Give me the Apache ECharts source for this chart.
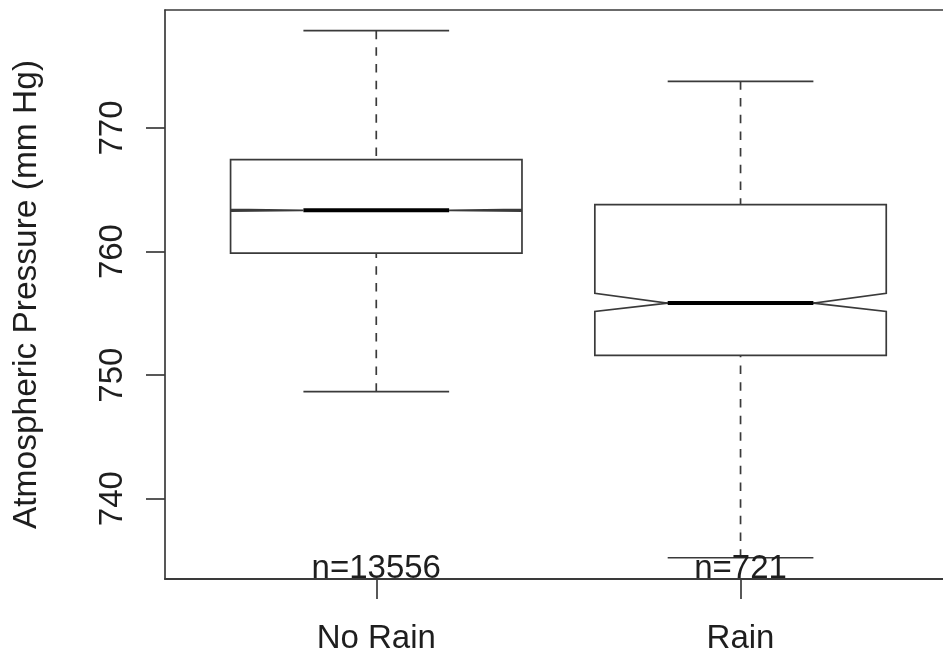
<!DOCTYPE html>
<html>
<head>
<meta charset="utf-8">
<script src="https://cdn.jsdelivr.net/npm/echarts@6/dist/echarts.min.js"></script>
<style>
html, body { margin: 0; padding: 0; background: #fff; }
#chart { width: 943px; height: 658px; }
</style>
</head>
<body>
<div id="chart"></div>
<script>
// values (mm Hg)
var groups = ['No Rain', 'Rain'];
var counts = [13556, 721];
var whiskerLow = [748.66, 735.22];
var q1 = [759.88, 751.60];
var notchLow = [763.27, 755.15];
var median = [763.34, 755.83];
var notchHigh = [763.41, 756.62];
var q3 = [767.44, 763.80];
var whiskerHigh = [777.88, 773.78];
var yTicks = [740, 750, 760, 770];

var FONT = '"Liberation Sans", Arial, sans-serif';
var INK = '#1e1e1e';
var LINE = '#3a3a3a';
var Y_MIN = 733.5, Y_MAX = 779.55;

var boxData = groups.map(function (g, i) {
    return [i + 1, whiskerLow[i], q1[i], notchLow[i], median[i], notchHigh[i], q3[i], whiskerHigh[i]];
});

function renderBox(params, api) {
    var x = api.value(0);
    var c = function (dx, v) { return api.coord([x + dx, v]); };
    var w = 0.4, h = 0.2;
    var lo = api.value(1), b1 = api.value(2), nl = api.value(3), md = api.value(4),
        nh = api.value(5), b3 = api.value(6), hi = api.value(7);
    var solid = { stroke: LINE, lineWidth: 1.7, fill: null };
    var dashed = { stroke: LINE, lineWidth: 1.7, lineDash: [8.5, 8.2] };
    var seg = function (p, q, style) {
        return { type: 'line', shape: { x1: p[0], y1: p[1], x2: q[0], y2: q[1] }, style: style };
    };
    var poly = [c(-w, b1), c(-w, nl), c(-h, md), c(-w, nh), c(-w, b3),
                c(w, b3), c(w, nh), c(h, md), c(w, nl), c(w, b1)];
    var base = c(0, Y_MIN);
    return {
        type: 'group',
        children: [
            seg(c(0, lo), c(0, b1), dashed),
            seg(c(0, hi), c(0, b3), dashed),
            seg(c(-h, lo), c(h, lo), solid),
            seg(c(-h, hi), c(h, hi), solid),
            { type: 'polygon', shape: { points: poly }, style: solid },
            seg(c(-h, md), c(h, md), { stroke: '#000', lineWidth: 4 }),
            {
                type: 'text', x: base[0], y: base[1] + 6,
                style: {
                    text: 'n=' + counts[params.dataIndex],
                    font: '33px ' + FONT, fill: INK,
                    align: 'center', verticalAlign: 'bottom'
                }
            }
        ]
    };
}

var chart = echarts.init(document.getElementById('chart'));
chart.setOption({
    animation: false,
    grid: { left: 165, right: 0, top: 10, bottom: 79 },
    xAxis: [{
        type: 'value', min: 0.42, max: 2.5558,
        axisLine: { show: true, onZero: false, lineStyle: { color: LINE, width: 2 } },
        axisTick: { show: true, customValues: [1, 2], length: 20, lineStyle: { color: LINE, width: 1.7 } },
        axisLabel: {
            customValues: [1, 2], margin: 43,
            formatter: function (v) { return groups[Math.round(v) - 1]; },
            fontFamily: FONT, fontSize: 33, color: INK
        },
        splitLine: { show: false }
    }, {
        type: 'value', position: 'top', min: 0.42, max: 2.5558,
        axisLine: { show: true, onZero: false, lineStyle: { color: LINE, width: 1.7 } },
        axisTick: { show: false }, axisLabel: { show: false }, splitLine: { show: false }
    }],
    yAxis: {
        type: 'value', min: Y_MIN, max: Y_MAX,
        name: 'Atmospheric Pressure (mm Hg)', nameLocation: 'middle', nameRotate: 90, nameGap: 121,
        nameTextStyle: { fontFamily: FONT, fontSize: 33.5, color: INK },
        axisLine: { show: true, lineStyle: { color: LINE, width: 1.7 } },
        axisTick: { show: true, customValues: yTicks, length: 19, lineStyle: { color: LINE, width: 1.7 } },
        axisLabel: {
            customValues: yTicks, rotate: 90, margin: 36,
            fontFamily: FONT, fontSize: 33, color: INK
        },
        splitLine: { show: false }
    },
    series: [{
        type: 'custom',
        renderItem: renderBox,
        encode: { x: 0, y: [1, 2, 3, 4, 5, 6, 7] },
        data: boxData,
        clip: false
    }]
});
</script>
</body>
</html>
